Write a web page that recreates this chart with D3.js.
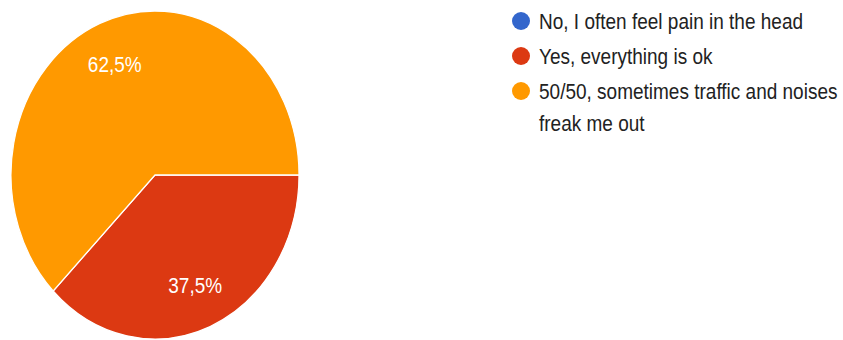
<!DOCTYPE html>
<html>
<head>
<meta charset="utf-8">
<script src="https://cdn.jsdelivr.net/npm/d3@7"></script>
<style>
  body { margin: 0; background: #fff; }
  text { font-family: "Liberation Sans", Arial, sans-serif; }
</style>
</head>
<body>
<div id="chart"></div>
<script>
const categories = [
  "No, I often feel pain in the head",
  "Yes, everything is ok",
  "50/50, sometimes traffic and noises freak me out"
];
const values = [0, 37.5, 62.5];
const colors = ["#3366cc", "#dc3912", "#ff9900"];
const legendLines = [
  ["No, I often feel pain in the head"],
  ["Yes, everything is ok"],
  ["50/50, sometimes traffic and noises", "freak me out"]
];

const width = 843, height = 340;
const R = 144;        // pie radius
const sy = 1.139;     // the source picture is a bit stretched vertically

const svg = d3.select("#chart").append("svg")
  .attr("width", width)
  .attr("height", height);

const pie = d3.pie()
  .sort(null)
  .startAngle(Math.PI / 2)
  .endAngle(Math.PI / 2 + 2 * Math.PI)
  .value(d => d);

const arcs = pie(values);
const arc = d3.arc().innerRadius(0).outerRadius(R);
const labelArc = d3.arc().innerRadius(R * 0.73).outerRadius(R * 0.73);

const g = svg.append("g")
  .attr("transform", `translate(155,175) scale(1,${sy})`);

g.selectAll("path")
  .data(arcs.filter(d => d.value > 0))
  .enter().append("path")
  .attr("d", arc)
  .attr("fill", d => colors[d.index])
  .attr("stroke", "#fff")
  .attr("stroke-width", 1.2);

const fmt = v => d3.format(".1f")(v).replace(".", ",") + "%";

g.selectAll("text.label")
  .data(arcs.filter(d => d.value > 0))
  .enter().append("text")
  .attr("class", "label")
  .attr("transform", d => `translate(${labelArc.centroid(d)})`)
  .attr("text-anchor", "middle")
  .attr("dy", "0.36em")
  .attr("fill", "#fff")
  .style("font-size", "19px")
  .text(d => fmt(d.value));

// legend
const legend = svg.append("g").attr("transform", "translate(521,21)");
const item = legend.selectAll("g")
  .data(categories)
  .enter().append("g")
  .attr("transform", (d, i) => `translate(0,${i * 35})`);

item.append("circle")
  .attr("r", 9)
  .attr("fill", (d, i) => colors[i]);

item.each(function (d, i) {
  const t = d3.select(this).append("text")
    .attr("transform", `translate(18,0) scale(1,${sy})`)
    .attr("fill", "#222")
    .style("font-size", "19px");
  legendLines[i].forEach((line, j) => {
    t.append("tspan")
      .attr("x", 0)
      .attr("y", j * 32 / sy)
      .attr("dy", "0.36em")
      .text(line);
  });
});
</script>
</body>
</html>
